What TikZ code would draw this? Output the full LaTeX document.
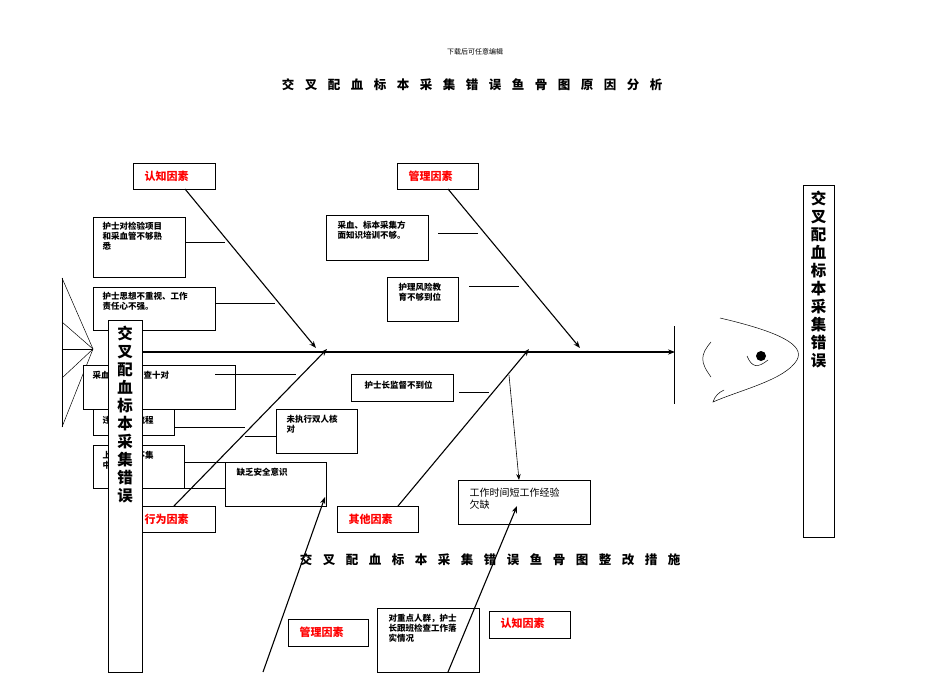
\documentclass[tikz,border=0pt]{standalone}
\usepackage{fontspec}
\setmainfont{Noto Sans CJK SC}
\usetikzlibrary{arrows.meta}
\newcommand\gsp{\hspace{10.5pt}}
\begin{document}
\begin{tikzpicture}[x=1pt,y=-1pt,
  bx/.style={draw,fill=white,line width=0.6pt,anchor=north west,inner sep=0pt},
  txt/.style={font=\fontsize{8.5}{10}\selectfont\bfseries,align=left,anchor=north west},
  red/.style={font=\fontsize{11}{13}\selectfont\bfseries,text=red,anchor=west},
  vt/.style={anchor=north,align=center,font=\fontsize{15.5}{18}\selectfont\bfseries},
  tw/.style={line width=0.5pt},
  arr/.style={line width=1.1pt,-{Stealth[length=7pt]}}]
\useasboundingbox (0,0) rectangle (950,672);
\node (hdr) at (475,52) {\fontsize{7}{8}\selectfont 下载后可任意编辑};
\node (t1) at (472,85) {\fontsize{12.5}{15}\selectfont\bfseries 交\gsp 叉\gsp 配\gsp 血\gsp 标\gsp 本\gsp 采\gsp 集\gsp 错\gsp 误\gsp 鱼\gsp 骨\gsp 图\gsp 原\gsp 因\gsp 分\gsp 析};
\node (t2) at (490,560) {\fontsize{12.5}{15}\selectfont\bfseries 交\gsp 叉\gsp 配\gsp 血\gsp 标\gsp 本\gsp 采\gsp 集\gsp 错\gsp 误\gsp 鱼\gsp 骨\gsp 图\gsp 整\gsp 改\gsp 措\gsp 施};
% tail
\coordinate (tp) at (93,349);
\draw[tw] (62,278) -- (62,427);
\foreach \y in {278,322,349,378,427} \draw[tw] (62,\y) -- (tp);
% spine
\coordinate (sp) at (675,352);
\draw[line width=2pt,-{Stealth[length=7pt]}] (110,352) -- (sp);
\draw[tw] (674,326) -- (674,404);
% fish head
\draw[tw] (720,318) .. controls (780,332) and (805,345) .. (797,360) .. controls (785,380) and (740,390) .. (713,402) .. controls (715,396) and (718,393) .. (724,390);
\draw[tw] (711,342) .. controls (700,355) and (700,362) .. (711,377);
\draw[tw] (747,356) .. controls (752,368) and (758,368) .. (768,360);
\fill (761,356) circle (5);
% right box
\node[bx,minimum width=31,minimum height=352] (rb) at (803,185) {};
\node[vt] at (818.5,187) {交\\叉\\配\\血\\标\\本\\采\\集\\错\\误};
% category boxes
\node[bx,minimum width=82,minimum height=26] (c1) at (133,163) {};
\node[red] at (141,176) {认知因素};
\node[bx,minimum width=81,minimum height=26] (c2) at (397,163) {};
\node[red] at (405,176) {管理因素};
\node[bx,minimum width=82,minimum height=26] (c3) at (133,506) {};
\node[red] at (141,519) {行为因素};
\node[bx,minimum width=81,minimum height=26] (c4) at (337,506) {};
\node[red] at (345,519) {其他因素};
\node[bx,minimum width=80,minimum height=27] (c5) at (288,619) {};
\node[red] at (296,632) {管理因素};
\node[bx,minimum width=81,minimum height=27] (c6) at (489,611) {};
\node[red] at (497,623) {认知因素};
% cause boxes
\node[bx,minimum width=92,minimum height=60] (A) at (93,217) {};
\node[txt] at (99,219) {护士对检验项目\\和采血管不够熟\\悉};
\draw[tw] (185,242) -- (225,242);
\node[bx,minimum width=122,minimum height=43] (B) at (93,287) {};
\node[txt] at (99,289) {护士思想不重视、工作\\责任心不强。};
\draw[tw] (215,303) -- (275,303);
\node[bx,minimum width=152,minimum height=44] (C) at (83,365) {};
\node[txt] at (89,368) {采血未执行三查十对};
\draw[tw] (215,374) -- (296,374);
\node[bx,minimum width=81,minimum height=26] (D) at (93,409) {};
\node[txt] at (99,413) {违反操作流程};
\draw[tw] (174,427) -- (245,427);
\node[bx,minimum width=91,minimum height=43] (E) at (93,445) {};
\node[txt] at (99,448) {上班思想不集\\中};
\draw[tw] (184,462) -- (225,462);
\draw[tw] (184,488) -- (225,488);
\node[bx,minimum width=81,minimum height=44] (F) at (276,409) {};
\node[txt] at (283,412) {未执行双人核\\对};
\draw[tw] (245,436) -- (276,436);
\node[bx,minimum width=101,minimum height=44] (G) at (225,462) {};
\node[txt] at (233,465) {缺乏安全意识};
\node[bx,minimum width=102,minimum height=45] (H) at (326,215) {};
\node[txt] at (334,218) {采血、标本采集方\\面知识培训不够。};
\draw[tw] (438,233) -- (478,233);
\node[bx,minimum width=71,minimum height=44] (I) at (387,277) {};
\node[txt] at (395,280) {护理风险教\\育不够到位};
\draw[tw] (469,286) -- (519,286);
\node[bx,minimum width=102,minimum height=27] (J) at (351,374) {};
\node[txt] at (361,378) {护士长监督不到位};
\draw[tw] (459,392) -- (489,392);
\node[bx,minimum width=132,minimum height=44] (K) at (458,480) {};
\node[txt,font=\fontsize{10}{12}\selectfont] at (466,484) {工作时间短工作经验\\欠缺};
\node[bx,minimum width=102,minimum height=64] (L) at (377,608) {};
\node[txt] at (385,611) {对重点人群，护士\\长跟班检查工作落\\实情况};
% left vertical box
\node[bx,minimum width=34,minimum height=352] (lb) at (108,320) {};
\node[vt] at (125,322) {交\\叉\\配\\血\\标\\本\\采\\集\\错\\误};
% arrows
\coordinate (a1) at (185,189);
\coordinate (a2) at (448,189);
\coordinate (a3) at (174,506);
\coordinate (a4) at (398,506);
\coordinate (a5) at (509,375);
\coordinate (a5e) at (519,480);
\draw[arr] (a1) -- (316,348);
\draw[arr] (a2) -- (580,348);
\draw[arr] (a3) -- (327,349);
\draw[arr] (a4) -- (529,349);
\draw[line width=0.6pt,-{Stealth[length=6pt]}] (a5) -- (a5e);
\draw[arr] (448,672) -- (517,506);
\draw[arr] (263,672) -- (325,497);
\end{tikzpicture}
\end{document}
